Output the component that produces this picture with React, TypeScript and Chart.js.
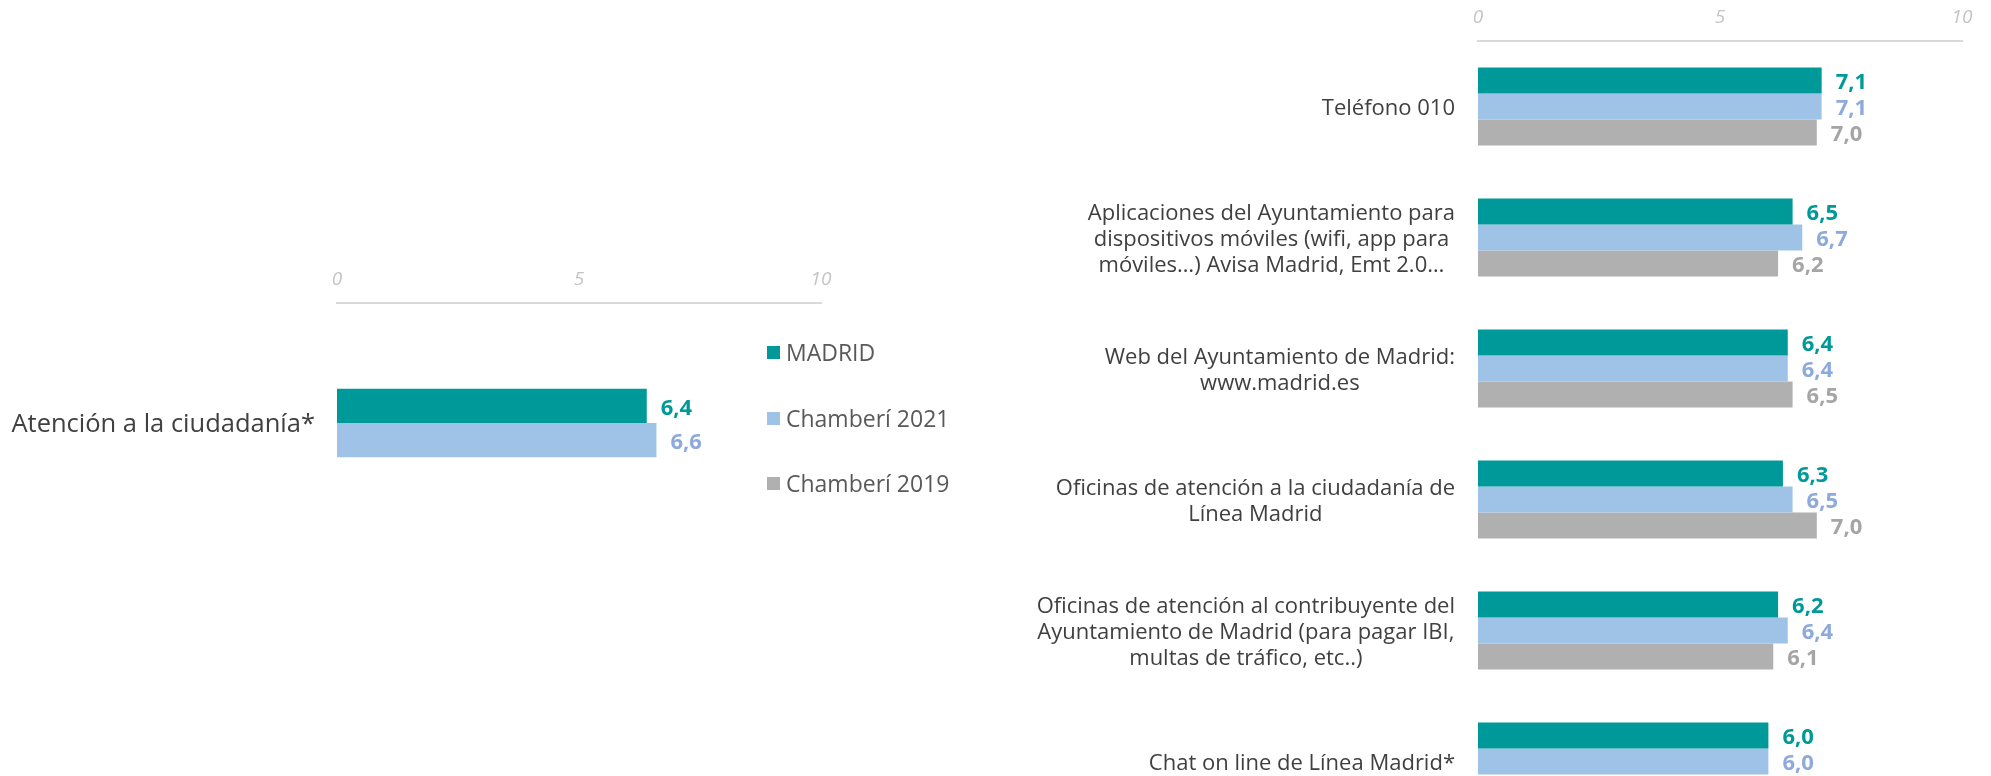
import React, { useEffect, useRef } from "react";
import { Chart, registerables } from "chart.js";

Chart.register(...registerables);

const FONT = "'Open Sans', sans-serif";

// ---- Data ----
const SERIES_NAMES = ["MADRID", "Chamberí 2021", "Chamberí 2019"];
const BAR_COLORS = ["#009999", "#9FC3E7", "#B0B0B0"];
const VALUE_COLORS = ["#009999", "#8EA9DB", "#A5A5A5"];
const AXIS_TICKS = [0, 5, 10];

const LEFT_CATEGORIES = [["Atención a la ciudadanía*"]];
const LEFT_MADRID = [6.4];
const LEFT_CHAMBERI_2021 = [6.6];

const RIGHT_CATEGORIES = [
  ["Teléfono 010"],
  [
    "Aplicaciones del Ayuntamiento para",
    "dispositivos móviles (wifi, app para",
    "móviles…) Avisa Madrid, Emt 2.0…",
  ],
  ["Web del Ayuntamiento de Madrid:", "www.madrid.es"],
  ["Oficinas de atención a la ciudadanía de", "Línea Madrid"],
  [
    "Oficinas de atención al contribuyente del",
    "Ayuntamiento de Madrid (para pagar IBI,",
    "multas de tráfico, etc..)",
  ],
  ["Chat on line de Línea Madrid*"],
];
const RIGHT_MADRID = [7.1, 6.5, 6.4, 6.3, 6.2, 6.0];
const RIGHT_CHAMBERI_2021 = [7.1, 6.7, 6.4, 6.5, 6.4, 6.0];
const RIGHT_CHAMBERI_2019 = [7.0, 6.2, 6.5, 7.0, 6.1, null];

// ---- Plugins ----
const categoryLabelPlugin = {
  id: "categoryLabels",
  afterDraw(chart: any, _args: any, opts: any) {
    const { ctx, chartArea } = chart;
    const yScale = chart.scales.y;
    ctx.save();
    ctx.font = `${opts.size}px ${FONT}`;
    ctx.fillStyle = opts.color;
    ctx.textBaseline = "middle";
    ctx.textAlign = "center";
    (chart.data.labels as any[]).forEach((lab, i) => {
      const lines: string[] = Array.isArray(lab) ? lab : [lab];
      const w = Math.max(...lines.map((l) => ctx.measureText(l).width));
      const cx = chartArea.left - opts.gap - w / 2;
      const cy = yScale.getPixelForValue(i) + opts.dy;
      lines.forEach((l, k) => {
        ctx.fillText(l, cx, cy + (k - (lines.length - 1) / 2) * opts.lineHeight);
      });
    });
    ctx.restore();
  },
};

const valueLabelPlugin = {
  id: "valueLabels",
  afterDatasetsDraw(chart: any, _args: any, opts: any) {
    const { ctx } = chart;
    ctx.save();
    ctx.font = `bold ${opts.size}px ${FONT}`;
    ctx.textAlign = "left";
    ctx.textBaseline = "middle";
    chart.data.datasets.forEach((ds: any, di: number) => {
      const meta = chart.getDatasetMeta(di);
      meta.data.forEach((el: any, i: number) => {
        const v = ds.data[i];
        if (v === null || v === undefined) return;
        ctx.fillStyle = VALUE_COLORS[di];
        ctx.fillText(
          Number(v).toFixed(1).replace(".", ","),
          el.x + opts.offset,
          el.y + opts.dy
        );
      });
    });
    ctx.restore();
  },
};

type PanelProps = {
  left: number;
  top: number;
  width: number;
  height: number;
  labels: string[][];
  series: (number | null)[][];
  yWidth: number;
  padRight: number;
  catPct: number;
  labelSize: number;
  labelGap: number;
  valueDy: number;
};

function BarPanel(p: PanelProps) {
  const ref = useRef<HTMLCanvasElement>(null);
  useEffect(() => {
    let chart: Chart | null = null;
    let cancelled = false;
    const make = () => {
      if (cancelled || !ref.current) return;
      chart = new Chart(ref.current, {
        type: "bar",
        data: {
          labels: p.labels as any,
          datasets: p.series.map((d, i) => ({
            label: SERIES_NAMES[i],
            data: d as any,
            backgroundColor: BAR_COLORS[i],
            borderWidth: 0,
            categoryPercentage: p.catPct,
            barPercentage: 1,
          })),
        },
        options: {
          indexAxis: "y",
          responsive: false,
          animation: false,
          devicePixelRatio: 1,
          layout: { padding: { left: 0, right: p.padRight, top: 0, bottom: 0 } },
          plugins: {
            legend: { display: false },
            tooltip: { enabled: false },
            categoryLabels: {
              size: p.labelSize,
              color: "#404040",
              gap: p.labelGap,
              lineHeight: 26,
              dy: 2,
            },
            valueLabels: { size: 22, offset: 14, dy: p.valueDy },
          } as any,
          scales: {
            x: {
              type: "linear",
              position: "top",
              min: 0,
              max: 10,
              afterBuildTicks: (s: any) => {
                s.ticks = AXIS_TICKS.map((v) => ({ value: v }));
              },
              grid: { display: false, drawTicks: false },
              border: { display: true, color: "#D9D9D9", width: 2 },
              ticks: {
                padding: 12,
                color: "#C4C4C4",
                maxRotation: 0,
                font: { family: FONT, size: 19, style: "italic" },
              },
              afterFit: (s: any) => {
                s.height = 41;
              },
            },
            y: {
              type: "category",
              grid: { display: false, drawTicks: false },
              border: { display: false },
              ticks: { display: false },
              afterFit: (s: any) => {
                s.width = p.yWidth;
              },
            },
          },
        } as any,
        plugins: [categoryLabelPlugin, valueLabelPlugin],
      });
    };
    const fontsReady = (document as any).fonts
      ? Promise.all([
          (document as any).fonts.load(`22px 'Open Sans'`),
          (document as any).fonts.load(`bold 22px 'Open Sans'`),
          (document as any).fonts.load(`italic 19px 'Open Sans'`),
        ])
      : Promise.resolve();
    fontsReady.then(make, make);
    return () => {
      cancelled = true;
      if (chart) chart.destroy();
    };
  }, []);
  return (
    <canvas
      ref={ref}
      width={p.width}
      height={p.height}
      style={{ position: "absolute", left: p.left, top: p.top, width: p.width, height: p.height }}
    />
  );
}

function Legend() {
  return (
    <div style={{ position: "absolute", left: 767, top: 320 }}>
      {SERIES_NAMES.map((name, i) => (
        <div
          key={name}
          style={{ height: 65.6, display: "flex", alignItems: "center" }}
        >
          <span
            style={{
              display: "inline-block",
              width: 13,
              height: 13,
              background: BAR_COLORS[i],
              marginRight: 6,
            }}
          />
          <span
            style={{
              fontFamily: FONT,
              fontSize: 23,
              lineHeight: 1,
              color: "#595959",
              whiteSpace: "nowrap",
            }}
          >
            {name}
          </span>
        </div>
      ))}
    </div>
  );
}

export default function App() {
  return (
    <div
      style={{
        position: "fixed",
        left: 0,
        top: 0,
        width: 1991,
        height: 776,
        overflow: "hidden",
        background: "#FFFFFF",
      }}
    >
      <BarPanel
        left={0}
        top={262}
        width={850}
        height={281}
        labels={LEFT_CATEGORIES}
        series={[LEFT_MADRID, LEFT_CHAMBERI_2021]}
        yWidth={337}
        padRight={29}
        catPct={0.286}
        labelSize={25.5}
        labelGap={22}
        valueDy={3}
      />
      <Legend />
      <BarPanel
        left={1000}
        top={0}
        width={991}
        height={827}
        labels={RIGHT_CATEGORIES}
        series={[RIGHT_MADRID, RIGHT_CHAMBERI_2021, RIGHT_CHAMBERI_2019]}
        yWidth={478}
        padRight={29}
        catPct={0.596}
        labelSize={22}
        labelGap={23}
        valueDy={2}
      />
    </div>
  );
}
